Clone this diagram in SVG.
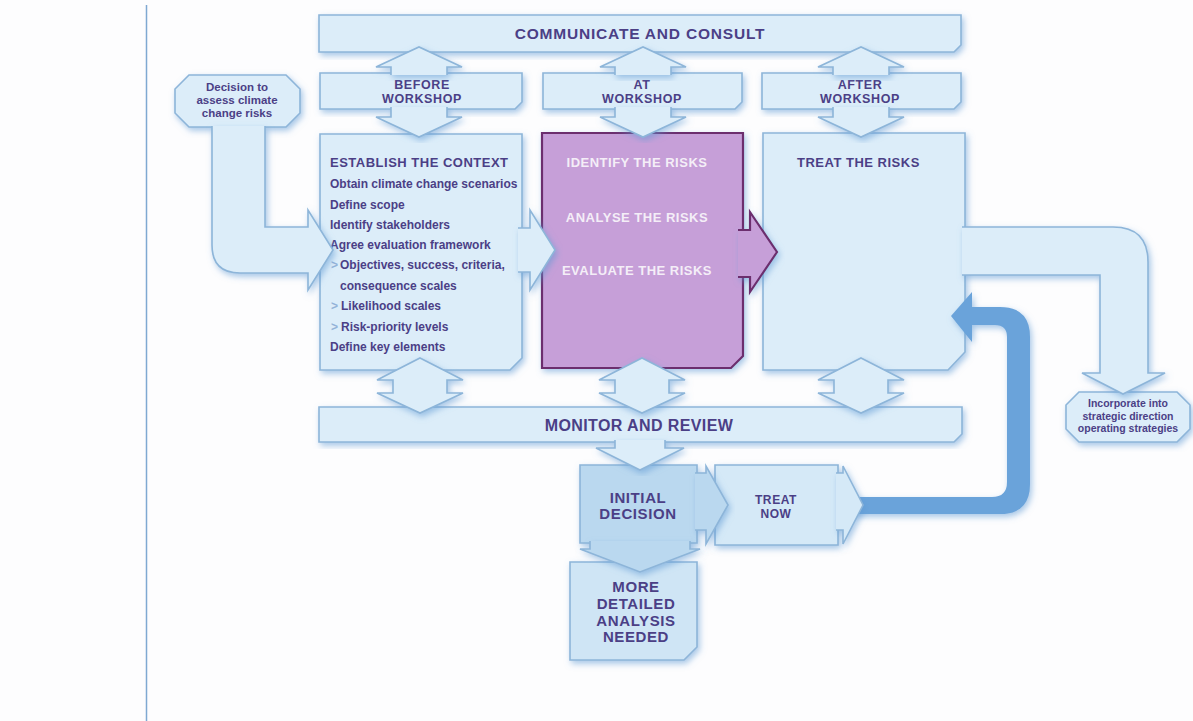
<svg xmlns="http://www.w3.org/2000/svg" width="1193" height="721" viewBox="0 0 1193 721">
<defs>
<filter id="sh" x="-20%" y="-20%" width="140%" height="140%">
<feDropShadow dx="2" dy="3" stdDeviation="3" flood-color="#5e9ad4" flood-opacity="0.55"/>
</filter>
<style>
.bx{fill:#dcedf9;stroke:#8db5d9;stroke-width:1.6;stroke-linejoin:miter;filter:url(#sh)}
.ar{fill:#dcedf9;stroke:#8db5d9;stroke-width:1.6;stroke-linejoin:miter;filter:url(#sh)}
.pu{fill:#c69fd8;stroke:#6c2d6e;stroke-width:2.2;filter:url(#sh)}
.t{font-family:"Liberation Sans",Arial,sans-serif;font-weight:bold;fill:#4b3f86}
.big{font-size:16px;letter-spacing:0.4px;text-anchor:middle}
.hd{font-size:12.5px;letter-spacing:0.6px;text-anchor:middle}
.ttl{font-size:13px;letter-spacing:0.5px}
.bd{font-size:12px}
.sm{font-size:11.5px;text-anchor:middle}
.xs{font-size:10.5px;text-anchor:middle}
.pt{font-family:"Liberation Sans",Arial,sans-serif;font-weight:bold;font-size:13px;letter-spacing:0.5px;fill:#f4eef7;text-anchor:middle}
.bl{fill:#93b3d8}
.lg{font-size:15px;letter-spacing:0.6px;text-anchor:middle}
</style>
</defs>
<rect width="1193" height="721" fill="#fdfdfe"/>
<line x1="146.5" y1="5" x2="146.5" y2="721" stroke="#7fa9d2" stroke-width="1.5"/>

<g id="communicate">
<polygon class="bx" points="319,15 961,15 961,45 954,52 319,52"/>
<text class="t big" x="640" y="39" style="font-size:15.5px;letter-spacing:0.8px">COMMUNICATE AND CONSULT</text>
</g>

<g id="before-workshop">
<polygon class="bx" points="320,73 522,73 522,102 515,109 320,109"/>
<text class="t hd" x="422" y="88.5">BEFORE</text>
<text class="t hd" x="422" y="102.5">WORKSHOP</text>
</g>
<g id="at-workshop">
<polygon class="bx" points="543,73 742,73 742,102 735,109 543,109"/>
<text class="t hd" x="642" y="88.5">AT</text>
<text class="t hd" x="642" y="102.5">WORKSHOP</text>
</g>
<g id="after-workshop">
<polygon class="bx" points="762,73 961,73 961,102 954,109 762,109"/>
<text class="t hd" x="860" y="88.5">AFTER</text>
<text class="t hd" x="860" y="102.5">WORKSHOP</text>
</g>

<g id="decision">
<polygon class="bx" points="189,75 286,75 300,89 300,113 286,127 189,127 175,113 175,89"/>
<text class="t sm" x="237" y="91">Decision to</text>
<text class="t sm" x="237" y="104">assess climate</text>
<text class="t sm" x="237" y="117">change risks</text>
</g>

<g id="treat-risks">
<polygon class="bx" points="763,133 965,133 965,352 948,370 763,370"/>
<text class="t ttl" x="797" y="167">TREAT THE RISKS</text>
</g>

<g id="identify-analyse-evaluate">
<polygon class="pu" points="542,133 743,133 743,356 731,368 542,368"/>
<text class="pt" x="637" y="166.5">IDENTIFY THE RISKS</text>
<text class="pt" x="637" y="221.5">ANALYSE THE RISKS</text>
<text class="pt" x="637" y="274.5">EVALUATE THE RISKS</text>
</g>

<g id="context">
<polygon class="bx" points="320,134 522,134 522,358 510,370 320,370"/>
<text class="t ttl" x="330" y="167">ESTABLISH THE CONTEXT</text>
<text class="t bd" x="330" y="188">Obtain climate change scenarios</text>
<text class="t bd" x="330" y="208.5">Define scope</text>
<text class="t bd" x="330" y="229">Identify stakeholders</text>
<text class="t bd" x="330" y="249">Agree evaluation framework</text>
<text class="t bd bl" x="331" y="269">&gt;</text>
<text class="t bd" x="340" y="269">Objectives, success, criteria,</text>
<text class="t bd" x="340" y="289.5">consequence scales</text>
<text class="t bd bl" x="331" y="310">&gt;</text>
<text class="t bd" x="341" y="310">Likelihood scales</text>
<text class="t bd bl" x="331" y="330.5">&gt;</text>
<text class="t bd" x="341" y="330.5">Risk-priority levels</text>
<text class="t bd" x="330" y="351">Define key elements</text>
</g>

<g id="incorporate">
<polygon class="bx" points="1079,392 1177,392 1190,405 1190,429 1177,442 1079,442 1066,429 1066,405"/>
<text class="t xs" x="1128" y="407">Incorporate into</text>
<text class="t xs" x="1128" y="419.5">strategic direction</text>
<text class="t xs" x="1128" y="432">operating strategies</text>
</g>

<g id="monitor">
<polygon class="bx" points="319,407 962,407 962,434 954,442 319,442"/>
<text class="t big" x="639" y="430.5">MONITOR AND REVIEW</text>
</g>

<g id="initial-decision">
<polygon class="bx" points="580,465 697,465 697,543 580,543" style="fill:#bad8ef"/>
<text class="t lg" x="638" y="503">INITIAL</text>
<text class="t lg" x="638" y="519">DECISION</text>
</g>

<g id="treat-now">
<polygon class="bx" points="715,465 838,465 838,545 715,545" style="fill:#d5e9f7"/>
<text class="t hd" x="776" y="504" style="font-size:12px">TREAT</text>
<text class="t hd" x="776" y="518" style="font-size:12px">NOW</text>
</g>

<g id="more-detailed">
<polygon class="bx" points="570,562 697,562 697,647 684,660 570,660" style="fill:#cfe5f5"/>
<text class="t lg" x="636" y="592">MORE</text>
<text class="t lg" x="636" y="609">DETAILED</text>
<text class="t lg" x="636" y="625.5">ANALYSIS</text>
<text class="t lg" x="636" y="642">NEEDED</text>
</g>

<g id="connectors">
<path class="ar" d="M265,126 L265,227 L308,227 L308,210 L333,250 L308,290 L308,273 L240,273 Q212,273 212,245 L212,126"/>
<path class="ar" d="M518,228 L530,228 L530,210 L555,250 L530,290 L530,272 L518,272"/>
<path class="pu" d="M738,230 L750,230 L750,212 L777,252 L750,292 L750,277 L738,277"/>
<path class="ar" d="M962,227 L1113,227 Q1148,227 1148,262 L1148,373 L1165,373 L1123,394 L1082,373 L1100,373 L1100,275 L962,275"/>

<path class="ar" d="M391,75 L391,67 L376,67 L419,47 L462,67 L447,67 L447,75"/>
<path class="ar" d="M391,107 L391,117 L376,117 L419,137 L462,117 L447,117 L447,107"/>
<path class="ar" d="M615,75 L615,67 L600,67 L643,47 L686,67 L671,67 L671,75"/>
<path class="ar" d="M615,107 L615,117 L600,117 L643,137 L686,117 L671,117 L671,107"/>
<path class="ar" d="M833,75 L833,67 L818,67 L861,47 L904,67 L889,67 L889,75"/>
<path class="ar" d="M833,107 L833,117 L818,117 L861,137 L904,117 L889,117 L889,107"/>

<polygon class="ar" points="420,358 463,380 447,380 447,393 463,393 420,413 377,393 393,393 393,380 377,380"/>
<polygon class="ar" points="642,358 685,380 669,380 669,393 685,393 642,413 599,393 615,393 615,380 599,380"/>
<polygon class="ar" points="861,358 904,380 888,380 888,393 904,393 861,413 818,393 834,393 834,380 818,380"/>

<path class="ar" d="M615,440 L615,448 L596,448 L640,470 L684,448 L665,448 L665,440"/>
<path class="ar" d="M590,541 L590,549 L580,549 L640,572 L700,549 L690,549 L690,541" style="fill:#bad8ef"/>
<path class="ar" d="M695,473 L706,473 L706,466 L728,505 L706,544 L706,530 L695,530" style="fill:#bad8ef"/>
<path d="M850,497 L992,497 Q1007,497 1007,482 L1007,337 Q1007,325 995,325 L972,325 L972,342 L951,316 L972,292 L972,307 L1000,307 Q1030,307 1030,337 L1030,484 Q1030,514 1000,514 L850,514 Z" fill="#6aa3da" filter="url(#sh)"/>
<path class="ar" d="M836,473 L843,473 L843,466 L863,505 L843,544 L843,530 L836,530" style="fill:#d5e9f7"/>
</g>
</svg>
